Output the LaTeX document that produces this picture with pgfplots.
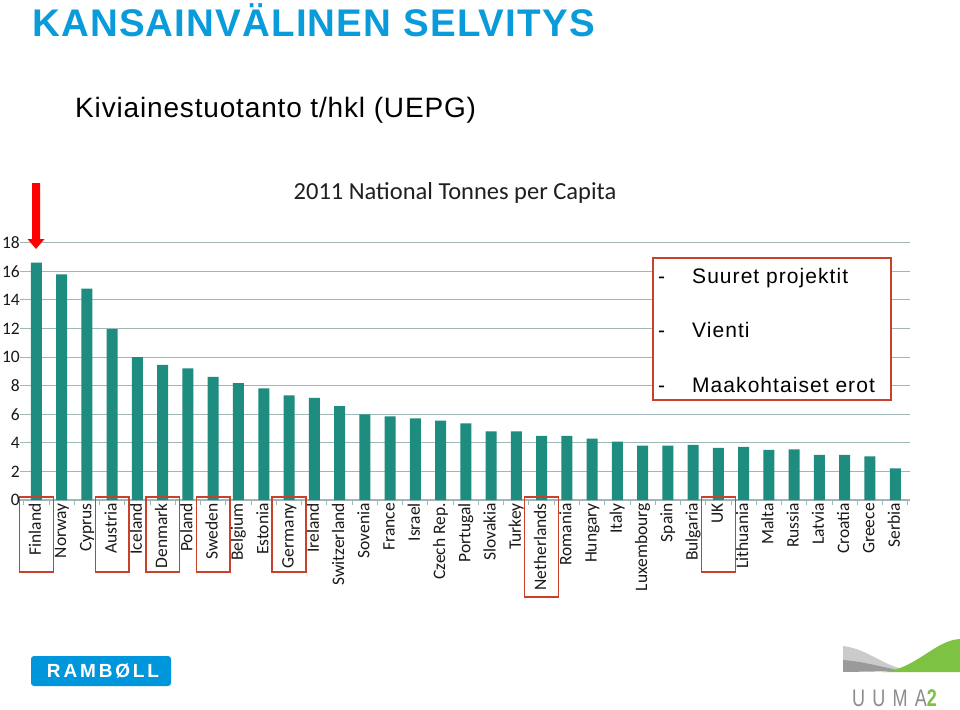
\documentclass[border=0pt]{standalone}
\usepackage{pgfplots}
\pgfplotsset{compat=1.18}
\usepackage{fontspec}
\setmainfont{Carlito}
\newfontfamily\titlefont[LetterSpace=3]{Liberation Sans}
\newfontfamily\subfont[LetterSpace=3]{Liberation Sans}
\newfontfamily\legfont[LetterSpace=5]{Liberation Sans}
\newfontfamily\rambfont[LetterSpace=15]{Liberation Sans}
\newfontfamily\uumafont[LetterSpace=30,FakeStretch=0.75]{Liberation Sans}
\newfontfamily\uumabold[FakeStretch=0.75]{Liberation Sans}
\definecolor{barc}{HTML}{1E8C7E}
\definecolor{gridc}{HTML}{9FB7B7}
\definecolor{boxred}{HTML}{C8412D}
\definecolor{titleblue}{HTML}{0A9BDB}
\definecolor{rblue}{HTML}{0096DC}
\definecolor{ugreen}{HTML}{7DC242}
\definecolor{ugrey}{HTML}{CBCBCB}
\definecolor{udark}{HTML}{9A9A9A}
\definecolor{utext}{HTML}{8C8C8C}
\begin{document}
\begin{tikzpicture}
\path[use as bounding box, fill=white] (0,0) rectangle (960bp,-710bp);
% headings
\node[anchor=base west, inner sep=0, text=titleblue, font=\titlefont\bfseries\fontsize{38.5bp}{40bp}\selectfont] at (32bp,-36bp) {KANSAINVÄLINEN SELVITYS};
\node[anchor=base west, inner sep=0, text=black, font=\subfont\fontsize{28bp}{30bp}\selectfont] at (75bp,-117bp) {Kiviainestuotanto t/hkl (UEPG)};
\node[anchor=base, inner sep=0, text=black!88, font=\fontsize{24.5bp}{26bp}\selectfont] at (455bp,-199bp) {2011 National Tonnes per Capita};
\begin{axis}[
  at={(20bp,-500bp)}, anchor=south west,
  scale only axis, width=890.4bp, height=257.3bp,
  xmin=-0.65, xmax=34.6, ymin=0, ymax=18,
  axis x line*=bottom, axis y line*=left,
  y axis line style={draw=none},
  x axis line style={-, draw=gridc, line width=1.2bp},
  ytick={0,2,...,18},
  xtick={0,...,34},
  xticklabels={Finland,Norway,Cyprus,Austria,Iceland,Denmark,Poland,Sweden,Belgium,Estonia,Germany,Ireland,Switzerland,Sovenia,France,Israel,Czech Rep.,Portugal,Slovakia,Turkey,Netherlands,Romania,Hungary,Italy,Luxembourg,Spain,Bulgaria,UK,Lithuania,Malta,Russia,Latvia,Croatia,Greece,Serbia},
  minor xtick={-0.5,0.5,...,34.5},
  major tick length=0pt, minor tick length=5bp,
  tick align=outside,
  minor tick style={draw=gridc, line width=1bp},
  ymajorgrids, grid style={draw=gridc, line width=1bp},
  tick label style={font=\fontsize{17.5bp}{19bp}\selectfont, text=black!90},
  xticklabel style={rotate=90, anchor=east, inner sep=0pt, text height=12bp, text depth=3bp},
  xticklabel shift=3bp,
  yticklabel style={inner sep=0pt},
  /pgf/number format/assume math mode=true,
  clip=false,
]
\addplot[ybar, bar width=11bp, fill=barc, draw=none] coordinates {
(0,16.6) (1,15.78) (2,14.78) (3,11.96) (4,10.0) (5,9.46) (6,9.2) (7,8.62) (8,8.18) (9,7.81)
(10,7.32) (11,7.15) (12,6.57) (13,5.99) (14,5.85) (15,5.71) (16,5.55) (17,5.36) (18,4.80) (19,4.80)
(20,4.48) (21,4.48) (22,4.29) (23,4.08) (24,3.80) (25,3.80) (26,3.85) (27,3.64) (28,3.71) (29,3.50)
(30,3.54) (31,3.15) (32,3.15) (33,3.05) (34,2.21)};
% highlight boxes around selected labels
\draw[boxred, line width=1.5bp] (axis cs:-0.67,0.21) rectangle (axis cs:0.67,-5.04);
\draw[boxred, line width=1.5bp] (axis cs:2.33,0.21) rectangle (axis cs:3.67,-5.04);
\draw[boxred, line width=1.5bp] (axis cs:4.33,0.21) rectangle (axis cs:5.67,-5.04);
\draw[boxred, line width=1.5bp] (axis cs:6.33,0.21) rectangle (axis cs:7.67,-5.04);
\draw[boxred, line width=1.5bp] (axis cs:9.33,0.21) rectangle (axis cs:10.67,-5.04);
\draw[boxred, line width=1.5bp] (axis cs:19.33,0.21) rectangle (axis cs:20.67,-6.79);
\draw[boxred, line width=1.5bp] (axis cs:26.33,0.21) rectangle (axis cs:27.67,-5.04);
\end{axis}
% red arrow
\fill[red] (32bp,-183bp) -- (40bp,-183bp) -- (40bp,-239bp) -- (44.5bp,-239bp) -- (36bp,-249bp) -- (27.5bp,-239bp) -- (32bp,-239bp) -- cycle;
% text box
\draw[boxred, line width=2.8bp, fill=white] (653bp,-258bp) rectangle (891bp,-400bp);
\begin{scope}[every node/.style={anchor=base west, inner sep=0, font=\legfont\fontsize{21bp}{23bp}\selectfont}]
\node at (658bp,-283bp) {-};
\node at (692bp,-283bp) {Suuret projektit};
\node at (658bp,-337bp) {-};
\node at (692bp,-337bp) {Vienti};
\node at (658bp,-392bp) {-};
\node at (692bp,-392bp) {Maakohtaiset erot};
\end{scope}
% Ramboll logo
\fill[rblue, rounded corners=3bp] (31bp,-656bp) rectangle (171bp,-686bp);
\node[text=white, inner sep=0, font=\rambfont\bfseries\fontsize{19bp}{21bp}\selectfont] at (103bp,-671bp) {RAMBØLL};
% UUMA2 logo
\fill[ugrey] (843bp,-646bp) .. controls (868bp,-649bp) and (885bp,-667bp) .. (905bp,-669bp) -- (843bp,-672bp) -- cycle;
\fill[udark] (843bp,-660bp) .. controls (868bp,-662bp) and (888bp,-669bp) .. (905bp,-671bp) -- (843bp,-672bp) -- cycle;
\fill[ugreen] (882bp,-672bp) .. controls (915bp,-670bp) and (935bp,-640bp) .. (960bp,-639bp) -- (960bp,-672bp) -- cycle;
\node[anchor=base west, inner sep=0, font=\fontsize{24bp}{26bp}\selectfont] at (852bp,-706bp) {\uumafont\textcolor{utext}{UUMA}\uumabold\bfseries\textcolor{ugreen}{2}};
\end{tikzpicture}
\end{document}
